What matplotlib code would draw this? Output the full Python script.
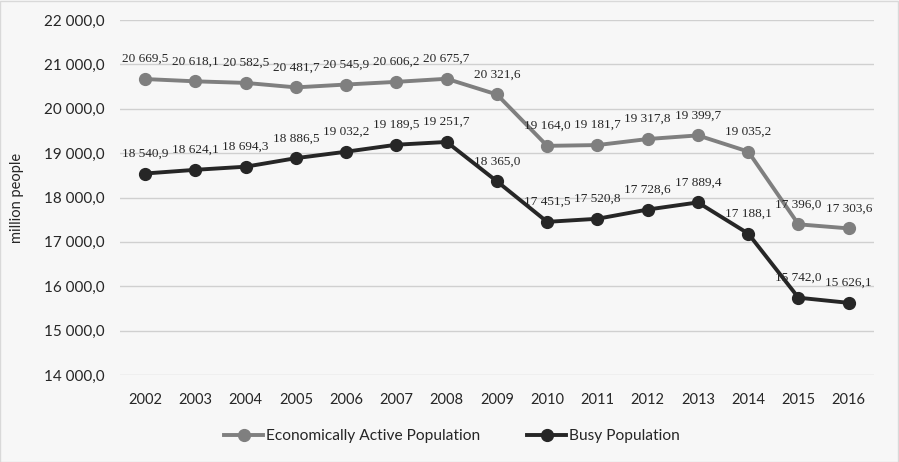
import matplotlib.pyplot as plt
from matplotlib.patches import Rectangle

years = [str(y) for y in range(2002, 2017)]
active = [20669.5, 20618.1, 20582.5, 20481.7, 20545.9, 20606.2, 20675.7, 20321.6,
          19164.0, 19181.7, 19317.8, 19399.7, 19035.2, 17396.0, 17303.6]
busy = [18540.9, 18624.1, 18694.3, 18886.5, 19032.2, 19189.5, 19251.7, 18365.0,
        17451.5, 17520.8, 17728.6, 17889.4, 17188.1, 15742.0, 15626.1]
y_ticks = [14000, 15000, 16000, 17000, 18000, 19000, 20000, 21000, 22000]


def fmt(v, dec=1):
    s = f"{v:,.{dec}f}"
    return s.replace(",", " ").replace(".", ",")


bg = '#f7f7f7'
fig = plt.figure(figsize=(8.99, 4.62), dpi=100, facecolor=bg)
fig.patches.append(Rectangle((0.0005, 0.001), 0.998, 0.997, transform=fig.transFigure,
                             fill=False, edgecolor='#d9d9d9', lw=1))
ax = fig.add_axes([0.1335, 0.1883, 0.8385, 0.7684])
ax.set_facecolor(bg)

x = list(range(len(years)))
ax.plot(x, active, color='#7f7f7f', lw=2.8, marker='o', ms=8.5, zorder=3,
        label='Economically Active Population')
ax.plot(x, busy, color='#262626', lw=2.8, marker='o', ms=8.5, zorder=3,
        label='Busy Population')

for series in (active, busy):
    for xi, v in zip(x, series):
        ax.annotate(fmt(v), (xi, v), xytext=(0, 10), textcoords='offset points',
                    ha='center', va='bottom', fontsize=9.5, family='Liberation Serif',
                    color='#262626')

ax.set_xlim(-0.5, len(years) - 0.5)
ax.set_ylim(14000, 22000)
ax.set_yticks(y_ticks)
ax.set_yticklabels([fmt(v) for v in y_ticks])
ax.set_xticks(x)
ax.set_xticklabels(years)
ax.tick_params(length=0, labelsize=10.5, colors='#262626')
ax.tick_params(axis='y', pad=11, labelsize=11)
ax.tick_params(axis='x', pad=13)
for lab in ax.get_xticklabels() + ax.get_yticklabels():
    lab.set_family('Lato')
ax.grid(axis='y', color='#d0d0d0', lw=1)
ax.set_axisbelow(True)
for s in ax.spines.values():
    s.set_visible(False)
ax.set_ylabel('million people', family='Lato', fontsize=10.5, color='#262626')
ax.yaxis.set_label_coords(-0.128, 0.5)

fig.legend(*ax.get_legend_handles_labels(), loc='center', bbox_to_anchor=(0.503, 0.056),
           ncol=2, frameon=False, prop={'family': 'Lato', 'size': 11.2}, handlelength=2.5,
           columnspacing=3, handletextpad=0.2, labelcolor='#262626')

fig.savefig('out.png', dpi=100, facecolor=bg)
